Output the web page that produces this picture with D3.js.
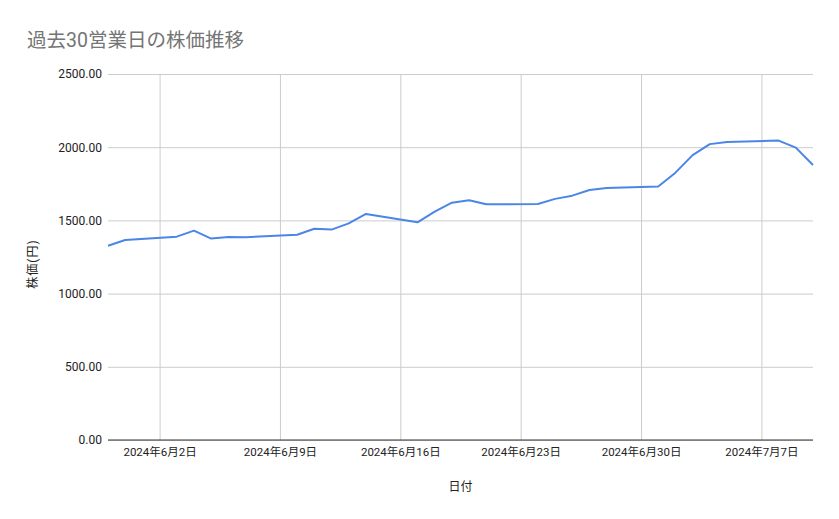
<!DOCTYPE html>
<html>
<head>
<meta charset="utf-8">
<script src="https://cdn.jsdelivr.net/npm/d3@7"></script>
<style>
  body { margin: 0; background: #fff; }
  text { font-family: Roboto, "Noto Sans CJK JP", sans-serif; }
</style>
</head>
<body>
<div class="svg-container"></div>
<script>
// trading days (past 30 business days)
var dates = ["2024-05-30", "2024-05-31",
  "2024-06-03", "2024-06-04", "2024-06-05", "2024-06-06", "2024-06-07",
  "2024-06-10", "2024-06-11", "2024-06-12", "2024-06-13", "2024-06-14",
  "2024-06-17", "2024-06-18", "2024-06-19", "2024-06-20", "2024-06-21",
  "2024-06-24", "2024-06-25", "2024-06-26", "2024-06-27", "2024-06-28",
  "2024-07-01", "2024-07-02", "2024-07-03", "2024-07-04", "2024-07-05",
  "2024-07-08", "2024-07-09", "2024-07-10"];
var prices = [1327, 1366,
  1389, 1430, 1376, 1387, 1385,
  1402, 1443, 1437, 1480, 1544,
  1487, 1560, 1621, 1638, 1610,
  1612, 1647, 1669, 1708, 1721,
  1731, 1826, 1946, 2021, 2035,
  2045, 1997, 1878];
var xTicks = ["2024-06-02", "2024-06-09", "2024-06-16", "2024-06-23", "2024-06-30", "2024-07-07"];
var yTicks = [0, 500, 1000, 1500, 2000, 2500];

(function() {
    var W = 839, H = 519;
    var mLeft = 108, mRight = 813, mTop = 74, mBottom = 440;

    var parse = d3.timeParse("%Y-%m-%d");
    var data = dates.map(function(d, i) { return { date: parse(d), price: prices[i] }; });

    var svg = d3.select(".svg-container").append("svg")
        .attr("width", W)
        .attr("height", H);

    svg.append("rect").attr("width", W).attr("height", H).attr("fill", "#fff");

    var x = d3.scaleTime()
        .domain([parse("2024-05-30"), parse("2024-07-10")])
        .range([mLeft, mRight]);
    var y = d3.scaleLinear()
        .domain([0, 2500])
        .range([mBottom, mTop]);

    // title
    svg.append("text")
        .attr("x", 27).attr("y", 47)
        .attr("font-size", 19.5)
        .attr("fill", "#757575")
        .text("過去30営業日の株価推移");

    // y axis + horizontal grid
    var yAxis = svg.append("g")
        .attr("transform", "translate(" + mLeft + ",0)")
        .call(d3.axisLeft(y).tickValues(yTicks).tickSize(-(mRight - mLeft)).tickPadding(6)
            .tickFormat(d3.format(".2f")));
    yAxis.select(".domain").remove();
    yAxis.selectAll(".tick line").attr("stroke", "#cccccc");
    yAxis.selectAll(".tick text").attr("font-size", 12).attr("fill", "#222");

    // x axis + vertical grid
    var xAxis = svg.append("g")
        .attr("transform", "translate(0," + mBottom + ")")
        .call(d3.axisBottom(x).tickValues(xTicks.map(parse)).tickSize(-(mBottom - mTop)).tickPadding(8)
            .tickFormat(d3.timeFormat("%Y年%-m月%-d日")));
    xAxis.select(".domain").remove();
    xAxis.selectAll(".tick line").attr("stroke", "#cccccc");
    xAxis.selectAll(".tick text").attr("font-size", 11.5).attr("fill", "#222");

    // baseline
    svg.append("line")
        .attr("x1", mLeft).attr("x2", mRight)
        .attr("y1", y(0)).attr("y2", y(0))
        .attr("stroke", "#333").attr("stroke-width", 1);

    // price line
    var line = d3.line()
        .x(function(d) { return x(d.date); })
        .y(function(d) { return y(d.price); });

    svg.append("path")
        .datum(data)
        .attr("fill", "none")
        .attr("stroke", "#4a86e8")
        .attr("stroke-width", 2)
        .attr("stroke-linejoin", "round")
        .attr("d", line);

    // axis titles
    svg.append("text")
        .attr("x", (mLeft + mRight) / 2).attr("y", 491)
        .attr("text-anchor", "middle")
        .attr("font-size", 12).attr("fill", "#222")
        .text("日付");

    svg.append("text")
        .attr("transform", "translate(37," + ((mTop + mBottom) / 2 + 7) + ") rotate(-90)")
        .attr("text-anchor", "middle")
        .attr("font-size", 12).attr("fill", "#222")
        .attr("letter-spacing", 1)
        .text("株価(円)");
})();
</script>
</body>
</html>
